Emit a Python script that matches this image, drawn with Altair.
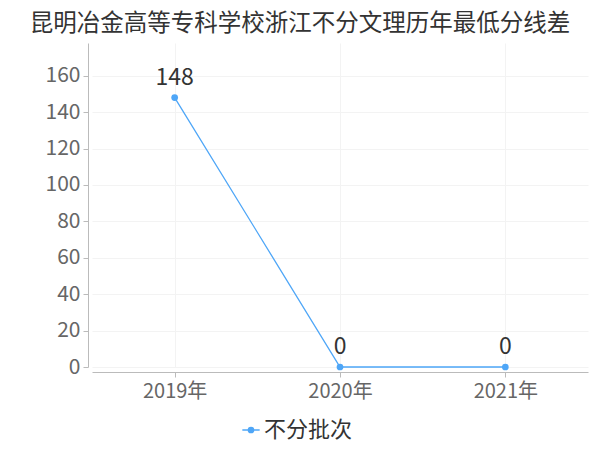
import altair as alt
import pandas as pd

years = ["2019年", "2020年", "2021年"]
values = [148, 0, 0]
series = ["不分批次", "不分批次", "不分批次"]
y_ticks = [0, 20, 40, 60, 80, 100, 120, 140, 160]

df = pd.DataFrame({"year": years, "value": values, "series": series})

FONT = "Noto Sans CJK SC"
COLOR = "#4ea6f7"

base = alt.Chart(df).encode(
    x=alt.X("year:N", sort=years, title=None,
            scale=alt.Scale(paddingInner=0, paddingOuter=0),
            axis=alt.Axis(labelAngle=0, labelFontSize=20, labelColor="#666666",
                          labelFont=FONT, domainColor="#bbbbbb", tickColor="#bbbbbb",
                          tickSize=5, offset=5, grid=True, gridColor="#f3f3f3",
                          labelPadding=4, bandPosition=0.5)),
    y=alt.Y("value:Q", title=None,
            scale=alt.Scale(domain=[0, 178], nice=False),
            axis=alt.Axis(values=y_ticks, labelFontSize=21, labelColor="#666666",
                          labelFont=FONT, domainColor="#bbbbbb", tickColor="#bbbbbb",
                          tickSize=5, offset=4, grid=True, gridColor="#f3f3f3",
                          labelPadding=3)),
)

legend_symbol = "M-1,0L-0.3,0M0.3,0L1,0M-0.3,0A0.3,0.3 0 1,0 0.3,0A0.3,0.3 0 1,0 -0.3,0Z"

line = base.mark_line(color=COLOR, strokeWidth=1.3).encode(
    color=alt.Color("series:N", scale=alt.Scale(range=[COLOR]),
                    legend=alt.Legend(title=None, orient="none", legendX=148, legendY=376,
                                      labelFontSize=22, labelFont=FONT, labelColor="#333333",
                                      symbolType=legend_symbol, symbolSize=300,
                                      symbolStrokeWidth=1.5, symbolFillColor=COLOR,
                                      symbolStrokeColor=COLOR, labelOffset=2))
)

pts = base.mark_point(color=COLOR, size=45, filled=True, opacity=1)

labels = base.mark_text(dy=-8, baseline="bottom", fontSize=23, font=FONT, color="#333333").encode(
    text=alt.Text("value:Q")
)

chart = alt.layer(line, pts, labels).properties(
    width=496, height=324,
    autosize=alt.AutoSizeParams(type="none"),
    padding={"left": 84, "top": 35, "right": 4, "bottom": 75},
    title=alt.TitleParams("昆明冶金高等专科学校浙江不分文理历年最低分线差", fontSize=23.5,
                          font=FONT, color="#333333", fontWeight="normal", anchor="middle",
                          dx=-40, offset=8),
).configure_view(stroke=None)

chart.save("out.html", embed_options={"renderer": "svg", "actions": False})
